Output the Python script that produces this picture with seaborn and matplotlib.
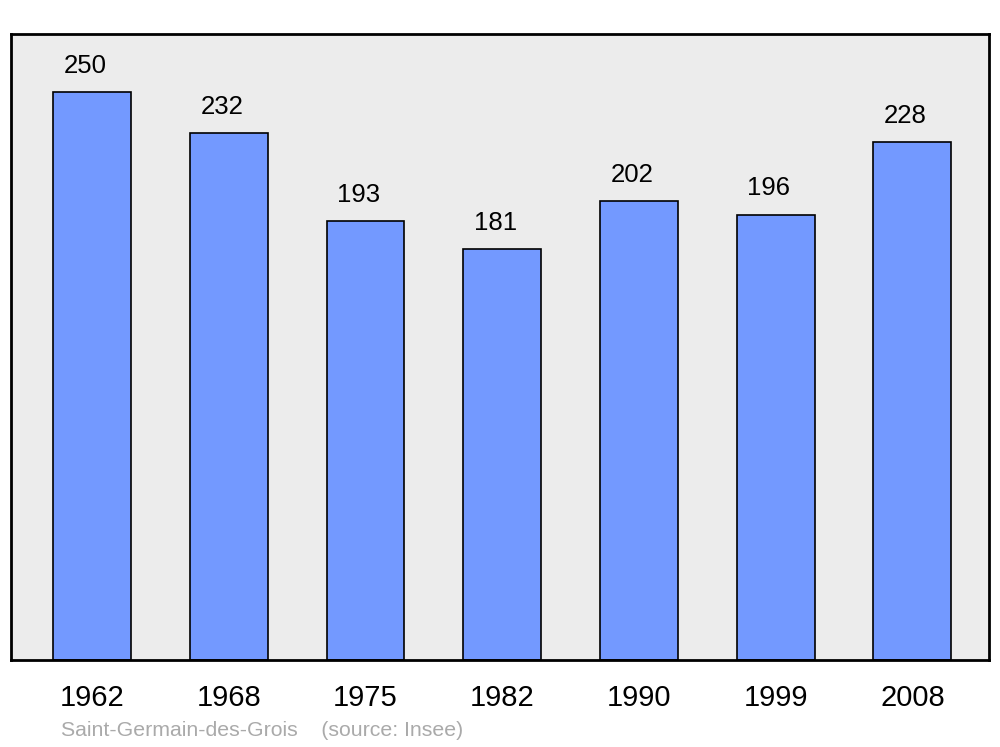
import pandas as pd
import matplotlib.pyplot as plt
import seaborn as sns

years = ["1962", "1968", "1975", "1982", "1990", "1999", "2008"]
population = [250, 232, 193, 181, 202, 196, 228]

df = pd.DataFrame({"year": years, "pop": population})

plt.rcParams['font.family'] = ['Liberation Sans', 'DejaVu Sans']

fig = plt.figure(figsize=(10, 7.47), dpi=100)
ax = fig.add_axes([0.011, 0.1165, 0.978, 0.838])
ax.set_facecolor('#ececec')

sns.barplot(data=df, x='year', y='pop', color='#7399ff', edgecolor='black',
            linewidth=1.2, width=0.57, saturation=1, ax=ax)

for i, v in enumerate(population):
    ax.text(i - 0.05, v + 11.5, str(v), ha='center', va='center', fontsize=18.5)

ax.set_xlim(-0.593, 6.56)
ax.set_ylim(0, 275.5)
ax.set_xlabel('')
ax.set_ylabel('')
ax.set_yticks([])
ax.tick_params(axis='x', length=0, labelsize=21, pad=17)
for s in ax.spines.values():
    s.set_linewidth(2)
    s.set_color('black')

fig.text(0.061, 1 - 730 / 747, 'Saint-Germain-des-Grois    (source: Insee)',
         fontsize=15.3, color='#aaaaaa', va='center')

fig.savefig('out.png', dpi=100)
